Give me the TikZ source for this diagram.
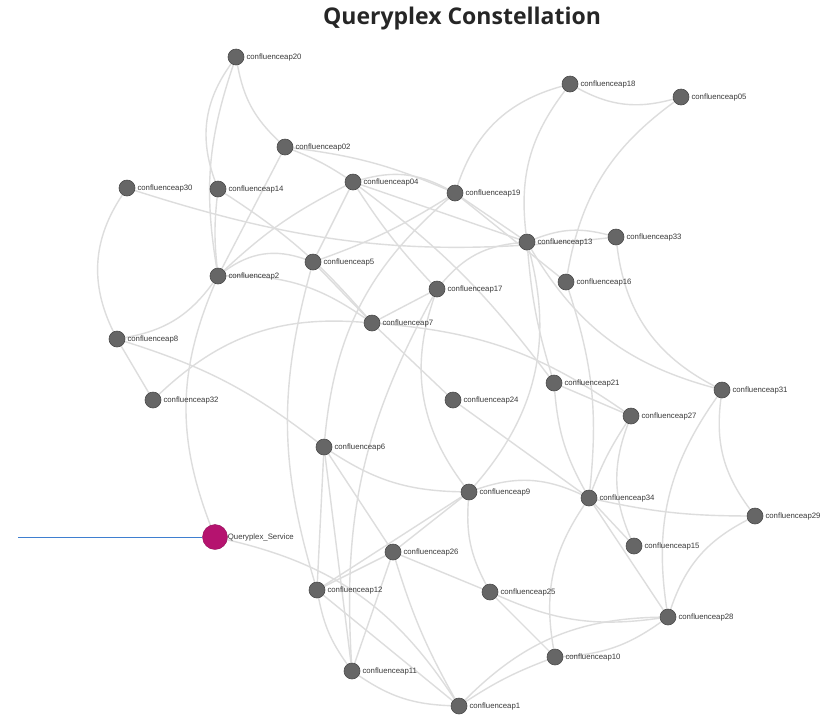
\documentclass[tikz,border=0pt]{standalone}
\usepackage{fontspec}
\setmainfont{Liberation Sans}
\newfontfamily\titlefont{Open Sans}
\usetikzlibrary{backgrounds}
\definecolor{nodegray}{HTML}{666666}
\definecolor{nodeedge}{HTML}{4A4A4A}
\definecolor{linkgray}{HTML}{DDDDDD}
\definecolor{lbltext}{HTML}{3A3A3A}
\definecolor{svcpink}{HTML}{B5136F}
\definecolor{feedblue}{HTML}{3F7FD0}
\begin{document}
\begin{tikzpicture}[x=1pt,y=-1pt,
  apnode/.style={circle, fill=nodegray, draw=nodeedge, line width=0.6pt,
    minimum size=16pt, inner sep=0pt,
    label={[lbl]0:#1}},
  lbl/.style={font=\fontsize{7.8}{9}\selectfont, text=lbltext, inner sep=0pt, label distance=2pt},
  svcnode/.style={circle, fill=svcpink, draw=svcpink!80!black, line width=0.4pt,
    minimum size=25pt, inner sep=0pt},
  link/.style={draw=linkgray, line width=1.4pt}]
\useasboundingbox (0,0) rectangle (840,716);

\node[font=\titlefont\bfseries\fontsize{23}{25}\selectfont, text=black!85] (title) at (462,19) {Queryplex Constellation};

% service nodes
\node[apnode=confluenceap20] (n20) at (236,57) {};
\node[apnode=confluenceap02] (n02) at (285,147) {};
\node[apnode=confluenceap30] (n30) at (127,188) {};
\node[apnode=confluenceap14] (n14) at (218,189) {};
\node[apnode=confluenceap04] (n04) at (353,182) {};
\node[apnode=confluenceap19] (n19) at (455,193) {};
\node[apnode=confluenceap18] (n18) at (570,84) {};
\node[apnode=confluenceap05] (n05) at (681,97) {};
\node[apnode=confluenceap13] (n13) at (527,242) {};
\node[apnode=confluenceap33] (n33) at (616,237) {};
\node[apnode=confluenceap16] (n16) at (566,282) {};
\node[apnode=confluenceap17] (n17) at (437,289) {};
\node[apnode=confluenceap2] (n2) at (218,276) {};
\node[apnode=confluenceap5] (n5) at (313,262) {};
\node[apnode=confluenceap7] (n7) at (372,323) {};
\node[apnode=confluenceap8] (n8) at (117,339) {};
\node[apnode=confluenceap32] (n32) at (153,400) {};
\node[apnode=confluenceap21] (n21) at (554,383) {};
\node[apnode=confluenceap24] (n24) at (453,400) {};
\node[apnode=confluenceap31] (n31) at (722,390) {};
\node[apnode=confluenceap27] (n27) at (631,416) {};
\node[apnode=confluenceap6] (n6) at (324,447) {};
\node[apnode=confluenceap9] (n9) at (469,492) {};
\node[apnode=confluenceap34] (n34) at (589,498) {};
\node[apnode=confluenceap29] (n29) at (755,516) {};
\node[apnode=confluenceap15] (n15) at (634,546) {};
\node[apnode=confluenceap26] (n26) at (393,552) {};
\node[apnode=confluenceap12] (n12) at (317,590) {};
\node[apnode=confluenceap25] (n25) at (490,592) {};
\node[apnode=confluenceap28] (n28) at (668,617) {};
\node[apnode=confluenceap10] (n10) at (555,657) {};
\node[apnode=confluenceap11] (n11) at (352,671) {};
\node[apnode=confluenceap1] (n1) at (459,706) {};
\node[svcnode] (qs) at (215,537) {};
\node[lbl, anchor=west] (qslbl) at (qs.east) {Queryplex\_Service};
\coordinate (feed) at (18,537);

\begin{scope}[on background layer]
  \fill[white] (0,0) rectangle (840,716);
  \draw[feedblue, line width=1pt] (feed) -- (qs);
  % links between services, each with its arc bend
  \foreach \a/\b/\t in {
    n20/n14/-28, n20/n02/-18, n20/n2/-14, n02/n04/6, n02/n19/8, n02/n2/0,
    n30/n8/-30, n30/n33/-12, n14/n7/8, n14/n2/-6, n04/n2/-8, n04/n5/0,
    n04/n19/22, n04/n17/-5, n04/n13/0, n04/n21/8, n19/n18/28, n19/n13/0,
    n19/n16/0, n18/n05/-22, n18/n13/-22, n05/n16/-22, n13/n17/-22, n13/n33/18,
    n13/n31/-22, n33/n31/-28, n13/n21/-6, n16/n34/12, n17/n7/0, n17/n9/-28,
    n13/n9/28, n7/n24/0, n7/n32/-24, n7/n27/15, n2/n7/18, n2/n5/28,
    n2/n8/22, n2/qs/-22, n8/n32/0, n8/n6/10, n5/n12/-16, n19/n6/-22,
    n17/n11/-16, n24/n34/0, n21/n34/-12, n21/n27/0, n27/n34/-6, n27/n15/-22,
    n31/n28/-22, n31/n29/-22, n34/n29/-6, n34/n15/0, n34/n28/0, n34/n9/-22,
    n34/n10/-22, n29/n28/-22, n9/n26/0, n9/n25/-16, n9/n12/0, n6/n26/0,
    n6/n9/-16, n6/n12/0, n6/n11/0, n26/n12/0, n26/n25/0, n26/n11/0,
    qs/n1/22, n12/n11/-12, n12/n1/0, n26/n1/-6, n25/n10/0, n25/n28/-16,
    n28/n1/-22, n28/n10/16, n10/n1/-6, n11/n1/-16, n5/n7/0, n5/n19/-6}
    \draw[link] (\a) to[bend left=\t] (\b);
\end{scope}
\end{tikzpicture}
\end{document}
